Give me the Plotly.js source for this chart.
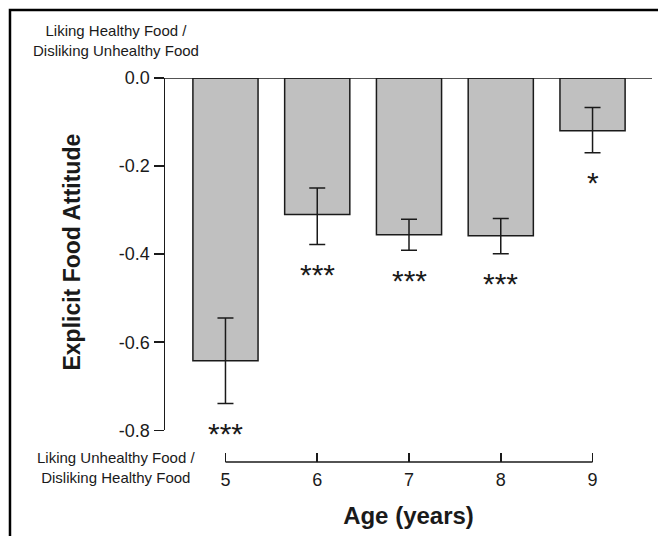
<!DOCTYPE html>
<html>
<head>
<meta charset="utf-8">
<script src="https://cdn.plot.ly/plotly-3.0.1.min.js"></script>
<style>
html,body{margin:0;padding:0;background:#fff;}
#chart{width:658px;height:536px;}
</style>
</head>
<body>
<div id="chart"></div>
<script>
const ages = [5, 6, 7, 8, 9];
const attitude = [-0.642, -0.310, -0.356, -0.358, -0.120];
const errUp = [0.097, 0.060, 0.035, 0.039, 0.053];
const errDown = [0.097, 0.068, 0.035, 0.041, 0.050];
const significance = ['***', '***', '***', '***', '*'];
const yTicks = [0, -0.2, -0.4, -0.6, -0.8];
const yTickLabels = ['0.0', '-0.2', '-0.4', '-0.6', '-0.8'];

const FONT = 'Liberation Sans, Arial, Helvetica, sans-serif';
const INK = '#1a1a1a';

const trace = {
  type: 'bar',
  x: ages,
  y: attitude,
  width: 0.71,
  marker: {color: '#c0c0c0', line: {color: INK, width: 1.5}},
  error_y: {
    type: 'data', symmetric: false,
    array: errUp, arrayminus: errDown,
    color: INK, thickness: 1.5, width: 8
  },
  hoverinfo: 'x+y'
};

const annotations = [
  {xref: 'paper', yref: 'paper', x: -0.1006, y: 1.0964, xanchor: 'center', yanchor: 'middle',
   text: 'Liking Healthy Food /<br>Disliking Unhealthy Food', showarrow: false,
   font: {family: FONT, size: 15, color: INK}},
  {xref: 'paper', yref: 'paper', x: -0.1006, y: -0.0156, xanchor: 'center', yanchor: 'middle',
   text: 'Liking Unhealthy Food /<br>Disliking Healthy Food', showarrow: false,
   font: {family: FONT, size: 15, color: INK}},
  {xref: 'paper', yref: 'paper', x: -0.191, y: 0.548, xanchor: 'center', yanchor: 'middle',
   text: '<b>Explicit Food Attitude</b>', textangle: -90, showarrow: false,
   font: {family: FONT, size: 23, color: INK}}
];
ages.forEach((a, i) => {
  annotations.push({
    xref: 'x', yref: 'y', x: a, y: attitude[i] - errDown[i],
    yshift: -30, xanchor: 'center', yanchor: 'middle',
    text: significance[i], showarrow: false,
    font: {family: FONT, size: 30, color: INK}
  });
});

const shapes = [
  {type: 'line', xref: 'paper', yref: 'y', x0: 0, x1: 1, y0: 0, y1: 0,
   line: {color: INK, width: 1.5}},
  {type: 'line', xref: 'x', yref: 'paper', x0: 5, x1: 9, y0: 0, y1: 0,
   line: {color: INK, width: 1.5}},
  {type: 'path', xref: 'paper', yref: 'paper',
   path: 'M -0.3183,-0.3 L -0.3183,1.177 L 1.03,1.177',
   line: {color: '#000', width: 2.5}}
];

const layout = {
  width: 658, height: 536,
  margin: {l: 165, r: 6, t: 78, b: 74},
  paper_bgcolor: '#fff', plot_bgcolor: '#fff',
  showlegend: false,
  font: {family: FONT, color: INK},
  xaxis: {
    range: [4.341, 9.648],
    anchor: 'free', position: 0,
    tickvals: ages, ticktext: ages.map(String),
    ticks: 'inside', ticklen: 9, tickwidth: 1.5, tickcolor: INK,
    ticklabelstandoff: 5,
    showline: false, showgrid: false, zeroline: false,
    tickfont: {family: FONT, size: 18, color: INK},
    title: {text: '<b>Age (years)</b>', font: {family: FONT, size: 24, color: INK}, standoff: 18}
  },
  yaxis: {
    range: [-0.8, 0],
    domain: [0.0826, 1],
    tickvals: yTicks, ticktext: yTickLabels,
    ticks: 'outside', ticklen: 10, tickwidth: 1.5, tickcolor: INK,
    showline: true, linecolor: INK, linewidth: 1.5,
    showgrid: false, zeroline: false,
    tickfont: {family: FONT, size: 18, color: INK}
  },
  annotations: annotations,
  shapes: shapes
};

Plotly.newPlot('chart', [trace], layout, {displayModeBar: false, staticPlot: true});
</script>
</body>
</html>
